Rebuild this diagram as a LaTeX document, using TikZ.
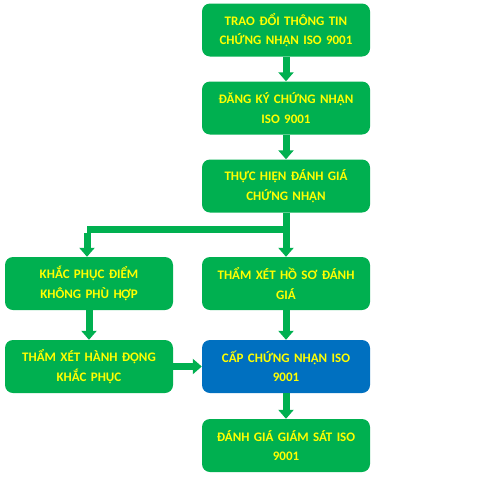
\documentclass[tikz,border=0pt]{standalone}
\usepackage{fontspec}
\setmainfont{Carlito}
\usetikzlibrary{arrows.meta}
\definecolor{boxgreen}{HTML}{00B050}
\definecolor{boxblue}{HTML}{0070C0}
\definecolor{txtyellow}{HTML}{FFFF00}
\tikzset{
  stepbox/.style={draw=none, fill=boxgreen, rounded corners=8pt, minimum width=168pt, minimum height=53pt,
    text width=160pt, align=center, font=\bfseries\fontsize{13}{19.5}\selectfont, text=txtyellow, inner sep=0pt},
  bluebox/.style={stepbox, fill=boxblue},
  flow/.style={draw=boxgreen, line width=7pt, -{Triangle[width=15pt,length=9pt]}},
  flowline/.style={draw=boxgreen, line width=7pt}
}
\begin{document}
\begin{tikzpicture}[x=1pt,y=-1pt]
\useasboundingbox (0,0) rectangle (500,480);
\node[stepbox] (a) at (286,30) {TRAO ĐỔI THÔNG TIN\\CHỨNG NHẬN ISO 9001};
\node[stepbox] (b) at (286,108) {ĐĂNG KÝ CHỨNG NHẬN\\ISO 9001};
\node[stepbox] (c) at (286,186) {THỰC HIỆN ĐÁNH GIÁ\\CHỨNG NHẬN};
\node[stepbox] (d) at (89,283.5) {KHẮC PHỤC ĐIỂM\\KHÔNG PHÙ HỢP};
\node[stepbox] (e) at (286,283.5) {THẨM XÉT HỒ SƠ ĐÁNH\\GIÁ};
\node[stepbox] (f) at (89,366.5) {THẨM XÉT HÀNH ĐỘNG\\KHẮC PHỤC};
\node[bluebox] (g) at (286,366.5) {CẤP CHỨNG NHẬN ISO\\9001};
\node[stepbox] (h) at (286,445.5) {ĐÁNH GIÁ GIÁM SÁT ISO\\9001};
\coordinate (split) at (286,229);
\coordinate (lcorner) at (87,229);
\draw[flow] (a.south) -- (b.north);
\draw[flow] (b.south) -- (c.north);
\draw[flow] (c.south) -- (e.north);
\draw[flowline] ([xshift=3.5pt]split) -- (lcorner);
\draw[flow] ([yshift=-3.5pt]lcorner) -- (lcorner |- d.north);
\draw[flow] (d.south) -- (f.north);
\draw[flow] (e.south) -- (g.north);
\draw[flow] (f.east) -- (g.west);
\draw[flow] (g.south) -- (h.north);
\end{tikzpicture}
\end{document}
